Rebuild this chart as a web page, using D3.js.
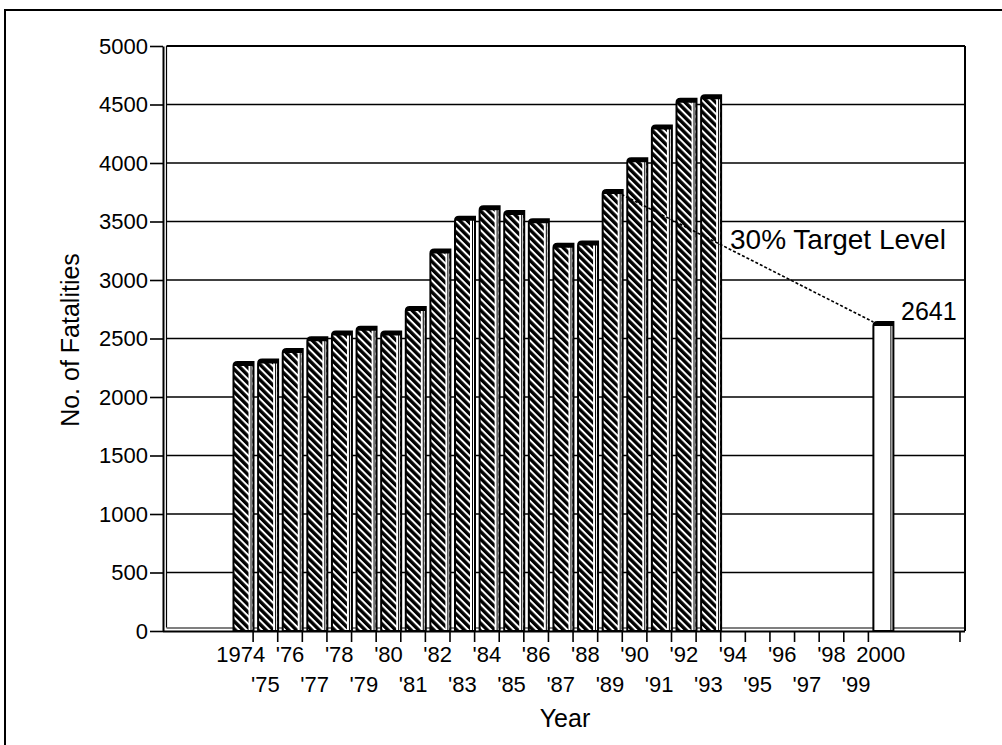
<!DOCTYPE html>
<html>
<head>
<meta charset="utf-8">
<script src="https://cdn.jsdelivr.net/npm/d3@7"></script>
<style>
    body { margin: 0; background: #fff; }
    svg { display: block; font-family: 'Liberation Sans', Arial, sans-serif; }
</style>
</head>
<body>
<svg></svg>
<script>

/*
*   Data.
*/

const YEARS = ['1974', '1975', '1976', '1977', '1978', '1979', '1980', '1981', '1982',
    '1983', '1984', '1985', '1986', '1987', '1988', '1989', '1990', '1991', '1992',
    '1993', '1994', '1995', '1996', '1997', '1998', '1999', '2000']

const YEAR_LABELS = ['1974', "'75", "'76", "'77", "'78", "'79", "'80", "'81", "'82",
    "'83", "'84", "'85", "'86", "'87", "'88", "'89", "'90", "'91", "'92",
    "'93", "'94", "'95", "'96", "'97", "'98", "'99", '2000']

const FATALITIES = [2300, 2320, 2410, 2510, 2560, 2600, 2560, 2770, 3260,
    3540, 3630, 3590, 3520, 3310, 3330, 3770, 4040, 4320, 4550,
    4580, null, null, null, null, null, null, 2641]

const TARGET_YEAR = '2000'
const TARGET_BASE_YEAR = '1989'
const TARGET_LABEL = '30% Target Level'

const Y_TICKS = [0, 500, 1000, 1500, 2000, 2500, 3000, 3500, 4000, 4500, 5000]


const Chart = () => {


    /*
    *   Constants
    */

    const WIDTH = 1002
    const HEIGHT = 745
    const PLOT_LEFT = 163
    const PLOT_RIGHT = 965
    const PLOT_TOP = 46
    const PLOT_BOTTOM = 631
    const WALL = 3.5
    const BAND_START = 228.5
    const BAND_END = 893
    const BAR_OFFSET = 5
    const BAR_WIDTH = 20


    /*
    *   Scales
    */

    const x = d3.scaleBand().domain(YEARS).range([BAND_START, BAND_END])
    const y = d3.scaleLinear().domain([0, 5000]).range([PLOT_BOTTOM, PLOT_TOP])
    const bw = x.bandwidth()

    const entries = YEARS.map((year, i) => ({ year, label: YEAR_LABELS[i], value: FATALITIES[i] }))


    const svg = d3.select('svg')
    .attr('width', WIDTH)
    .attr('height', HEIGHT)


    /*
    *   Hatch pattern for the historical bars.
    */

    const pattern = svg.append('defs')
    .append('pattern')
    .attr('id', 'hatch')
    .attr('patternUnits', 'userSpaceOnUse')
    .attr('width', 5.4)
    .attr('height', 5.4)
    .attr('patternTransform', 'rotate(45)')

    pattern.append('rect').attr('width', 5.4).attr('height', 5.4).attr('fill', '#000')
    pattern.append('rect').attr('width', 5.4).attr('height', 2).attr('fill', '#fff')


    /*
    *   Outer frame and plot frame.
    */

    svg.append('path')
    .attr('d', `M5,${HEIGHT} V10 H${WIDTH}`)
    .attr('fill', 'none')
    .attr('stroke', '#000')
    .attr('stroke-width', 2)

    svg.append('g')
    .selectAll('line')
    .data(Y_TICKS.filter(t => t > 0))
    .join('line')
    .attr('x1', PLOT_LEFT + WALL)
    .attr('x2', PLOT_RIGHT)
    .attr('y1', d => y(d))
    .attr('y2', d => y(d))
    .attr('stroke', '#000')
    .attr('stroke-width', d => d === 5000 ? 2 : 1.4)

    svg.append('line')
    .attr('x1', PLOT_RIGHT).attr('x2', PLOT_RIGHT)
    .attr('y1', PLOT_TOP).attr('y2', PLOT_BOTTOM)
    .attr('stroke', '#000').attr('stroke-width', 2)

    svg.append('line')
    .attr('x1', PLOT_LEFT + WALL).attr('x2', PLOT_LEFT + WALL)
    .attr('y1', PLOT_TOP).attr('y2', PLOT_BOTTOM - WALL)
    .attr('stroke', '#000').attr('stroke-width', 1.2)

    svg.append('line')
    .attr('x1', PLOT_LEFT + WALL).attr('x2', PLOT_RIGHT)
    .attr('y1', PLOT_BOTTOM - WALL + 0.5).attr('y2', PLOT_BOTTOM - WALL + 0.5)
    .attr('stroke', '#000').attr('stroke-width', 1.2)


    /*
    *   Y axis.
    */

    const yAxis = svg.append('g')
    .attr('transform', `translate(${PLOT_LEFT},0)`)
    .call(d3.axisLeft(y).tickValues(Y_TICKS).tickFormat(d3.format('d'))
        .tickSize(13).tickSizeOuter(0).tickPadding(2))

    yAxis.select('.domain').attr('stroke-width', 2)
    yAxis.selectAll('.tick line').attr('stroke-width', 1.6)
    yAxis.selectAll('.tick text')
    .attr('font-size', 22)
    .attr('font-family', 'Liberation Sans, Arial, sans-serif')
    .attr('fill', '#000')


    /*
    *   X axis: ticks between categories, labels on two rows.
    */

    svg.append('line')
    .attr('x1', PLOT_LEFT).attr('x2', PLOT_RIGHT)
    .attr('y1', PLOT_BOTTOM + 0.5).attr('y2', PLOT_BOTTOM + 0.5)
    .attr('stroke', '#000').attr('stroke-width', 2)

    svg.append('g')
    .selectAll('line')
    .data(entries.slice(0, -1))
    .join('line')
    .attr('x1', d => x(d.year) + bw)
    .attr('x2', d => x(d.year) + bw)
    .attr('y1', PLOT_BOTTOM)
    .attr('y2', PLOT_BOTTOM + 11)
    .attr('stroke', '#000')
    .attr('stroke-width', 1.6)

    svg.append('line')
    .attr('x1', PLOT_RIGHT - 5).attr('x2', PLOT_RIGHT - 5)
    .attr('y1', PLOT_BOTTOM).attr('y2', PLOT_BOTTOM + 11)
    .attr('stroke', '#000').attr('stroke-width', 1.6)

    svg.append('g')
    .selectAll('text')
    .data(entries)
    .join('text')
    .attr('x', d => x(d.year) + bw / 2)
    .attr('y', (d, i) => i % 2 === 0 ? 662 : 692)
    .attr('text-anchor', 'middle')
    .attr('font-size', 22)
    .text(d => d.label)


    /*
    *   Bars, drawn as flat 3-D columns.
    */

    const barPath = (x0, top, w, bottom) => {
        const r = 4
        return `M${x0},${bottom} V${top + r} Q${x0},${top} ${x0 + r},${top} H${x0 + w} V${bottom} Z`
    }

    const bars = svg.append('g')
    .selectAll('g')
    .data(entries.filter(e => e.value !== null))
    .join('g')

    bars.append('path')
    .attr('d', d => barPath(x(d.year) + BAR_OFFSET, y(d.value), BAR_WIDTH, PLOT_BOTTOM))
    .attr('fill', d => d.year === TARGET_YEAR ? '#fff' : 'url(#hatch)')

    bars.append('rect')
    .attr('x', d => x(d.year) + BAR_OFFSET + BAR_WIDTH - 5)
    .attr('y', d => y(d.value) + 3)
    .attr('width', 4)
    .attr('height', d => PLOT_BOTTOM - y(d.value) - 3)
    .attr('fill', '#fff')

    bars.append('line')
    .attr('x1', d => x(d.year) + BAR_OFFSET + BAR_WIDTH - 2.5)
    .attr('x2', d => x(d.year) + BAR_OFFSET + BAR_WIDTH - 2.5)
    .attr('y1', d => y(d.value) + 3)
    .attr('y2', PLOT_BOTTOM)
    .attr('stroke', '#000')
    .attr('stroke-width', 1)

    bars.append('path')
    .attr('d', d => barPath(x(d.year) + BAR_OFFSET, y(d.value), BAR_WIDTH, y(d.value) + 4))
    .attr('fill', '#000')

    bars.append('path')
    .attr('d', d => barPath(x(d.year) + BAR_OFFSET, y(d.value), BAR_WIDTH, PLOT_BOTTOM))
    .attr('fill', 'none')
    .attr('stroke', '#000')
    .attr('stroke-width', 2)


    /*
    *   Target line and labels.
    */

    const base = entries.find(e => e.year === TARGET_BASE_YEAR)
    const target = entries.find(e => e.year === TARGET_YEAR)

    svg.append('line')
    .attr('x1', x(base.year) + BAR_OFFSET + 10)
    .attr('y1', y(base.value))
    .attr('x2', x(target.year) + BAR_OFFSET)
    .attr('y2', y(target.value))
    .attr('stroke', '#000')
    .attr('stroke-width', 1.6)
    .attr('stroke-dasharray', '3,2')

    svg.append('text')
    .attr('x', 730)
    .attr('y', 249)
    .attr('font-size', 28)
    .text(TARGET_LABEL)

    svg.append('text')
    .attr('x', x(target.year) + bw + 8)
    .attr('y', y(target.value) - 2)
    .attr('font-size', 25)
    .text(target.value)


    /*
    *   Axis titles.
    */

    svg.append('text')
    .attr('x', 565)
    .attr('y', 727)
    .attr('text-anchor', 'middle')
    .attr('font-size', 25)
    .text('Year')

    svg.append('text')
    .attr('transform', 'translate(79,340) rotate(-90)')
    .attr('text-anchor', 'middle')
    .attr('font-size', 25)
    .text('No. of Fatalities')

}


/*
*   Execution entry point.
*/

Chart()

</script>
</body>
</html>
